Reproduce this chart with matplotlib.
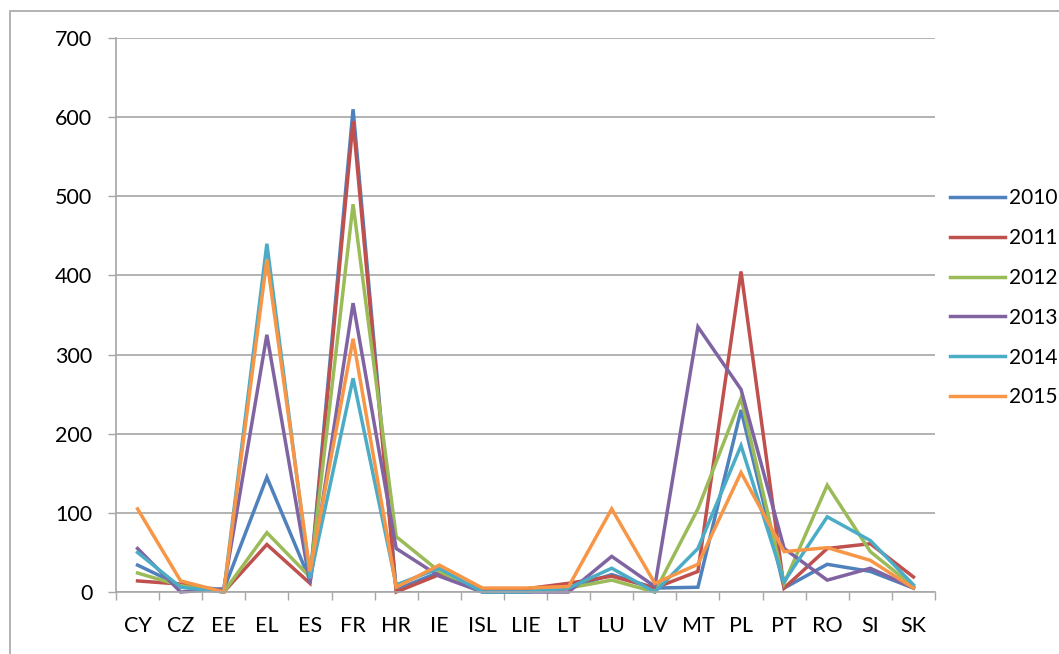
import matplotlib.pyplot as plt
from matplotlib.patches import Rectangle
import numpy as np

plt.rcParams['font.family'] = ['Lato', 'DejaVu Sans']

countries = ['CY', 'CZ', 'EE', 'EL', 'ES', 'FR', 'HR', 'IE', 'ISL', 'LIE',
             'LT', 'LU', 'LV', 'MT', 'PL', 'PT', 'RO', 'SI', 'SK']
years = ['2010', '2011', '2012', '2013', '2014', '2015']

v2010 = [34, 8, 3, 145, 15, 610, 3, 25, 0, 0, 5, 22, 5, 6, 230, 5, 35, 26, 5]
v2011 = [14, 10, 0, 60, 11, 595, 0, 22, 4, 4, 11, 20, 5, 26, 405, 5, 55, 61, 19]
v2012 = [24, 8, 0, 75, 19, 490, 70, 26, 0, 0, 5, 15, 0, 105, 245, 11, 135, 51, 7]
v2013 = [55, 0, 4, 325, 11, 365, 55, 20, 0, 0, 0, 45, 7, 335, 256, 55, 15, 30, 5]
v2014 = [50, 6, 0, 440, 17, 270, 9, 30, 0, 0, 5, 30, 0, 55, 185, 13, 95, 65, 9]
v2015 = [105, 14, 0, 420, 26, 320, 6, 34, 5, 5, 7, 105, 11, 35, 151, 51, 56, 40, 5]
series = [v2010, v2011, v2012, v2013, v2014, v2015]
colors = ['#4F81BD', '#C0504D', '#9BBB59', '#8064A2', '#4BACC6', '#F79646']

fig = plt.figure(figsize=(10.59, 6.54), dpi=100)
fig.patches.append(Rectangle((10 / 1059, -0.1), 1.2, 0.1 + (654 - 11) / 654,
                             transform=fig.transFigure, fill=False,
                             edgecolor='#A6A6A6', linewidth=1.2))

ax = fig.add_axes([116 / 1059, 62 / 654, 819 / 1059, 554 / 654])
x = np.arange(len(countries))
lines = []
for vals, c, yr in zip(series, colors, years):
    ln, = ax.plot(x, vals, color=c, linewidth=2.5, label=yr,
                  solid_joinstyle='miter', clip_on=False)
    lines.append(ln)

ax.set_xlim(-0.5, len(countries) - 0.5)
ax.set_ylim(0, 700)
ax.set_yticks(range(0, 701, 100))
ax.set_xticks(x)
ax.set_xticklabels(countries, fontsize=15.5)
ax.set_xticks(np.arange(-0.5, len(countries), 1), minor=True)
ax.tick_params(axis='x', which='major', length=0, pad=17)
ax.tick_params(axis='x', which='minor', length=6, color='#A6A6A6', width=1)
ax.tick_params(axis='y', length=6, color='#A6A6A6', width=1, labelsize=15.5, pad=11)
ax.grid(axis='y', color='#A6A6A6', linewidth=1.2)
ax.set_axisbelow(True)
for s in ['top', 'right']:
    ax.spines[s].set_visible(False)
ax.spines['left'].set_color('#A6A6A6')
ax.spines['bottom'].set_color('#A6A6A6')
ax.spines['left'].set_linewidth(1.2)
ax.spines['bottom'].set_linewidth(1.2)

# legend sits at the right edge, as in the reference
fig.legend(handles=lines, loc='upper left', bbox_to_anchor=(942 / 1059, 1 - 180 / 654),
           frameon=False, fontsize=15, handlelength=2.6, handletextpad=0.2,
           labelspacing=0.95, borderaxespad=0)

fig.savefig('out.png', dpi=100)
